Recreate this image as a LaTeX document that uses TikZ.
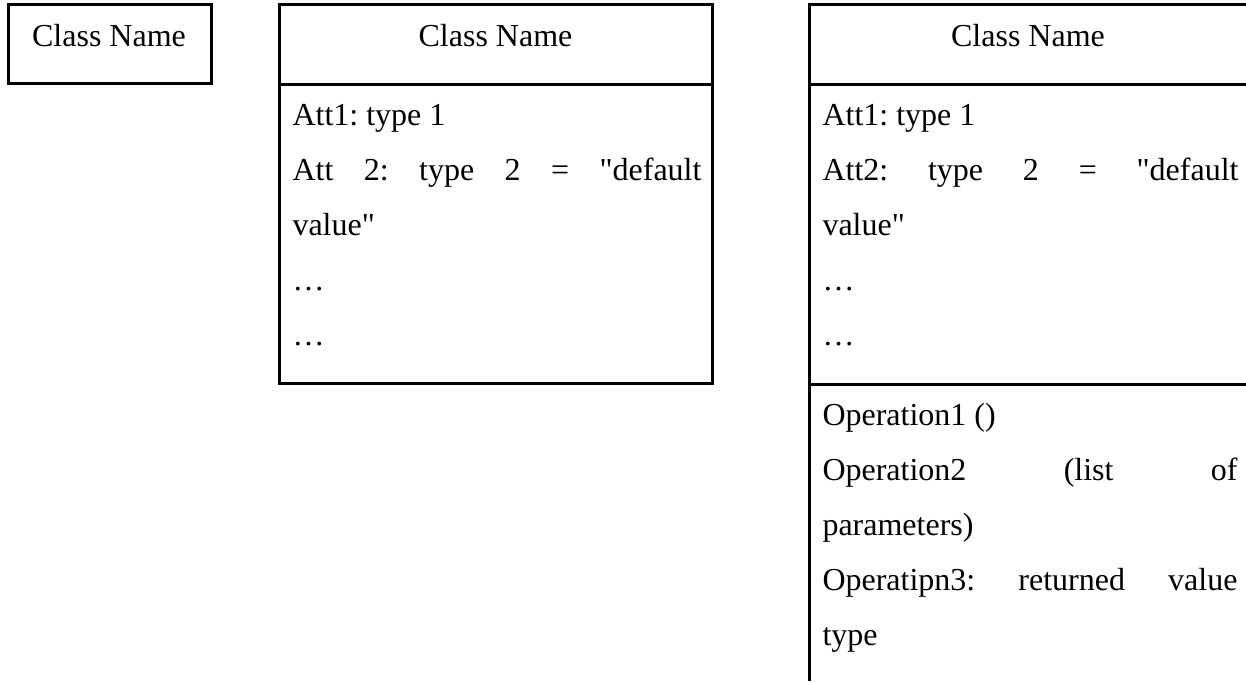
\documentclass[tikz,border=0pt]{standalone}
\usepackage{fontspec}
\setmainfont{Liberation Serif}[Ligatures=TeXOff]
\frenchspacing
\begin{document}
\begin{tikzpicture}[x=0.5pt,y=-0.5pt,line width=1.5pt,
  lbl/.style={anchor=base west,inner sep=0pt,font=\fontsize{16}{19}\selectfont},
  title/.style={anchor=base,inner sep=0pt,font=\fontsize{16}{19}\selectfont}]
\useasboundingbox (0,0) rectangle (1246,681);

% class with name only
\draw (8,4) rectangle (211,83);
\node[title] (n1) at (109,46) {Class Name};

% class with name and attributes
\draw (279,4) rectangle (712,383);
\draw (279,84) -- (712,84);
\node[title] (n2) at (495.5,46) {Class Name};
\node[lbl] (a21) at (291,125) {Att1: type 1};
\node[lbl] (a22) at (291,180) {\makebox[204.5pt][s]{Att 2: type 2 = "default}};
\node[lbl] (a23) at (291,235) {value"};
\node[lbl] (a24) at (291,290) {…};
\node[lbl] (a25) at (291,345) {…};

% class with name, attributes and operations
\draw (1246,4) -- (809,4) -- (809,681);
\draw (809,84) -- (1246,84);
\draw (809,384) -- (1246,384);
\node[title] (n3) at (1028,46) {Class Name};
\node[lbl] (a31) at (821,125) {Att1: type 1};
\node[lbl] (a32) at (821,180) {\makebox[208pt][s]{Att2: type 2 = "default}};
\node[lbl] (a33) at (821,235) {value"};
\node[lbl] (a34) at (821,290) {…};
\node[lbl] (a35) at (821,345) {…};
\node[lbl] (o1) at (821,425) {Operation1 ()};
\node[lbl] (o2) at (821,480) {\makebox[207.5pt][s]{Operation2 (list of}};
\node[lbl] (o3) at (821,535) {parameters)};
\node[lbl] (o4) at (821,590) {\makebox[207.5pt][s]{Operatipn3: returned value}};
\node[lbl] (o5) at (821,645) {type};
\end{tikzpicture}
\end{document}
